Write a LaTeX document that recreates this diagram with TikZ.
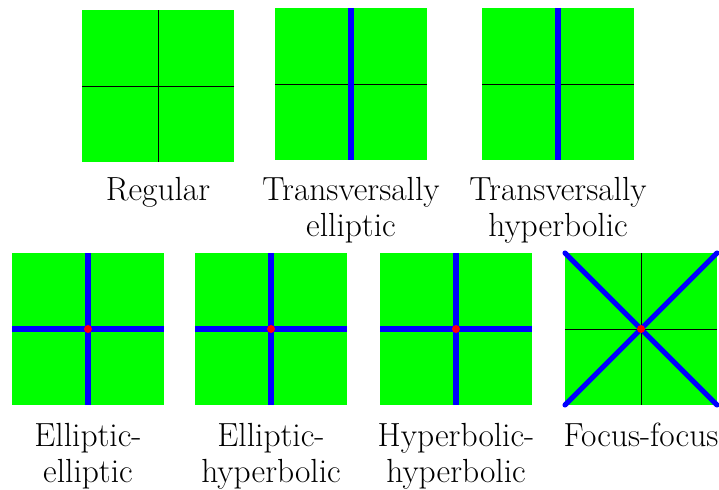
\documentclass[tikz,border=0pt]{standalone}
\usepackage{tikz}
\usetikzlibrary{positioning}
\definecolor{chartgreen}{rgb}{0,1,0}
\definecolor{orbitblue}{rgb}{0,0,1}
\definecolor{pointred}{rgb}{1,0,0}

\begin{document}
\begin{tikzpicture}[
  chart/.style={fill=chartgreen, minimum size=3.8cm, inner sep=0pt, outer sep=0pt},
  axisline/.style={black, line width=0.6pt},
  orbit/.style={orbitblue, line width=3.6pt},
  caption/.style={font=\fontsize{23.8}{25.5}\selectfont, align=center, inner sep=0pt}
]
  \useasboundingbox (0,0) rectangle (17.975,12.225);

  % top row
  \node[chart] (reg) at (3.95,10.075) {};
  \draw[axisline] (reg.north) -- (reg.south);
  \draw[axisline] (reg.west) -- (reg.east);
  \node[caption, below=0.38cm of reg] (regtxt) {Regular};

  \node[chart] (tell) at (8.775,10.125) {};
  \draw[axisline] (tell.west) -- (tell.east);
  \draw[orbit] (tell.north) -- (tell.south);
  \node[caption, below=0.42cm of tell] (telltxt) {Transversally\\elliptic};

  \node[chart] (thyp) at (13.95,10.125) {};
  \draw[axisline] (thyp.west) -- (thyp.east);
  \draw[orbit] (thyp.north) -- (thyp.south);
  \node[caption, below=0.42cm of thyp] (thyptxt) {Transversally\\hyperbolic};

  % bottom row
  \node[chart] (ee) at (2.2,4.0) {};
  \draw[orbit] (ee.north) -- (ee.south);
  \draw[orbit] (ee.west) -- (ee.east);
  \fill[pointred] (ee.center) circle (0.1);
  \node[caption, below=0.45cm of ee] (eetxt) {Elliptic-\\elliptic};

  \node[chart] (eh) at (6.775,4.0) {};
  \draw[orbit] (eh.north) -- (eh.south);
  \draw[orbit] (eh.west) -- (eh.east);
  \fill[pointred] (eh.center) circle (0.1);
  \node[caption, below=0.45cm of eh] (ehtxt) {Elliptic-\\hyperbolic};

  \node[chart] (hh) at (11.4,4.0) {};
  \draw[orbit] (hh.north) -- (hh.south);
  \draw[orbit] (hh.west) -- (hh.east);
  \fill[pointred] (hh.center) circle (0.1);
  \node[caption, below=0.45cm of hh] (hhtxt) {Hyperbolic-\\hyperbolic};

  \node[chart] (ff) at (16.025,4.0) {};
  \draw[axisline] (ff.north) -- (ff.south);
  \draw[axisline] (ff.west) -- (ff.east);
  \draw[orbit, line cap=round] (ff.north west) -- (ff.south east);
  \draw[orbit, line cap=round] (ff.south west) -- (ff.north east);
  \fill[pointred] (ff.center) circle (0.1);
  \node[caption, below=0.45cm of ff] (fftxt) {Focus-focus};
\end{tikzpicture}
\end{document}
